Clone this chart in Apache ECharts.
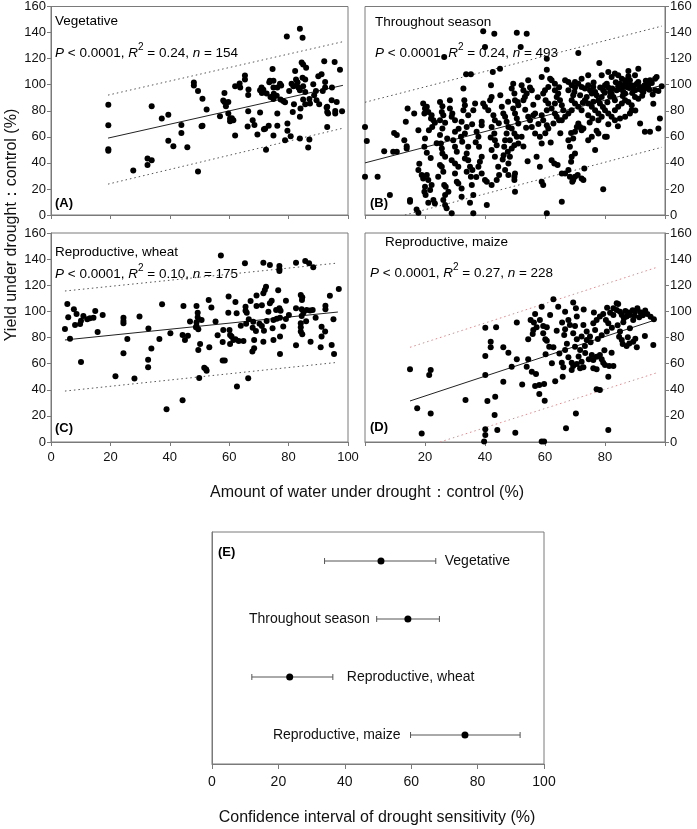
<!DOCTYPE html>
<html><head><meta charset="utf-8">
<script src="https://cdn.jsdelivr.net/npm/echarts@6/dist/echarts.min.js"></script>
<style>html,body{margin:0;padding:0;background:#fff}#c{width:697px;height:829px}</style>
</head><body><div id="c"></div>
<script>
// ---------- DATA ----------
const panelTitles = ['Vegetative','Throughout season','Reproductive, wheat','Reproductive, maize'];
const panelLetters = ['(A)','(B)','(C)','(D)','(E)'];
const pValues = ['0.0001','0.0001','0.0001','0.0001'];
const r2Values = ['0.24','0.24','0.10','0.27'];
const nValues = ['154','493','175','228'];
const xTicks = [0,20,40,60,80,100];
const yTicks = [0,20,40,60,80,100,120,140,160];

const vegetative = [[19.3,84.7],[19.3,68.9],[19.3,50.5],[19.3,49.3],[27.7,34.2],[32.5,43.4],[33.9,42.1],[32.5,38.3],[33.9,83.5],[37.3,74],[39.5,77],[39.5,57],[41.2,52.8],[43.9,69],[43.9,63],[45.9,52],[48.1,101.6],[48.1,99.3],[49.5,95.2],[49.5,33.4],[51,89.3],[51,68.4],[52.4,81],[56.9,75.8],[58.4,93.7],[58.4,86.8],[58.9,83.5],[59.7,86.8],[59.7,77.8],[60.3,74],[61.4,72.7],[60.3,72],[62,61],[62,98.8],[63.7,97.8],[63.5,101],[65.3,107],[65.3,104],[66.4,92],[66.4,79.6],[66.2,68],[67.9,72.7],[68.5,69],[69.5,61.8],[70.4,95.7],[71,93.7],[72.6,93.2],[70.4,78.6],[72.4,50],[71.7,65.8],[73.3,68.4],[74.6,112],[73.7,103],[74.9,103],[73.5,101.8],[74.9,97.8],[75,93],[73.9,90.6],[74.9,89],[76,91.6],[76.2,77.8],[74.9,61],[76.2,68.4],[77.1,100.8],[77.5,99.3],[76.2,97.8],[77.3,88.6],[78.2,87.5],[78.8,86.5],[78.8,57.4],[79.6,70.2],[79.6,64.6],[79.4,137],[80.2,95.2],[81,100.8],[81.6,98.8],[80.7,60.5],[81.4,79],[81.8,85],[82.2,110.5],[82.5,103.9],[83,101.8],[82.7,99.3],[83.3,97.8],[83.8,95.7],[83.8,143],[84.7,136],[83.8,75.3],[84,81.7],[83.8,58.7],[84.4,117],[84.9,115.4],[85.9,113],[84.7,105.4],[85.6,103.9],[84.9,98.8],[85.6,94.4],[84.9,88.6],[85.6,85],[87.2,85.5],[87,89],[87,58],[86.6,51.8],[88.3,100.3],[89.2,95.2],[88.6,91.9],[89.4,88],[90.3,85],[90,106.4],[91.1,108],[92,118],[92.3,102],[92.3,97.8],[91.5,95.2],[93,83],[93,79],[93.3,77.8],[93,67.6],[94.6,97.8],[94.5,88],[96.2,86.8],[95.5,117.4],[95.7,79.9],[95.7,77.8],[97.3,111.5],[98,79.6],[72.1,66.2],[60.9,74.2],[58,87.8],[70.9,97.8],[71.5,96.1],[66.5,96.4],[50.7,68.2],[92.8,82.4]];

const throughoutSeason = [[39.4,141.1],[43.1,139.1],[50.6,139.9],[53.9,139.1],[40,128.9],[51.9,128.9],[26.4,121.2],[71.1,124.3],[78.1,116.6],[60.6,120],[45,112.3],[42.6,109.7],[33.7,108],[35.3,108],
[0,67.6],[0.6,56.7],[0,29.4],[4.2,29.4],[8.3,15.3],[6.4,49],[9.4,48.5],[10.6,48.5],[9.7,63],[10.6,61.3],[13.1,57.4],[13.9,52.8],[13.9,51],[14.2,81.7],[16.4,77.8],[13.6,71.5],[15,11.5],[17.2,4.3],[17.8,1.8],
[19.4,85.5],[20,81.7],[20.6,83],[19.8,77.8],[21.1,79.1],[22.2,76.6],[22,74],[22.8,72.7],[23.3,70.7],[22.4,67.6],[21.3,65.1],[17.8,65.1],[20,58.7],[19.8,52.3],[20.6,47.7],[17.8,34.5],[18.9,30.6],[19.4,28.1],[20.6,30.6],[21.1,26.8],[20,21.7],[19.8,17.9],[20.2,15.3],[21.7,19.1],[22.2,23],[22.8,11.5],[23.3,8.9],[21.1,9.4],[15,10.2],
[25,86.8],[25.8,83.5],[25.6,79.1],[26.1,76.6],[25,72.7],[26.7,70.7],[25.8,66.4],[25,61.3],[25.3,54.9],[25.6,51],[25.8,47.2],[26.7,44.7],[25,38.3],[25.6,37],[26.1,33.2],[24.4,29.4],[26.4,23],[26.9,21.7],[27.8,17.9],[26.7,15.3],[26.1,11.5],[26.7,7.7],[27.2,5.1],[28.3,88.1],[28.3,81.7],[29.1,77.8],[28.9,75.3],[30,72.7],[30,63.8],[29.4,57.4],[30,52.3],[30.6,48.5],[28.9,42.1],[30,39.6],[31.1,37],[30,31.9],[30.6,25.5],[31.1,24.2],[32.2,20.4],[32.2,14],[28.9,1.3],
[32.8,97],[33.1,88.1],[33.3,84.2],[32.8,80.4],[34.4,76.6],[32.2,71.5],[33.9,67.6],[33.3,62.5],[32,60],[32.4,56.2],[34.4,52.3],[33.9,47.2],[33.3,43.4],[34.4,42.1],[35,37],[35.8,34.5],[33.9,33.2],[35.3,29.4],[35.6,23],[35,9.4],[36.1,1.3],[36.1,15.3],[36.1,80.4],[36.7,85.5],[37.2,63.8],[37.8,60],[38,52.3],[38.9,44.7],[38.3,40.8],[37.8,37],[38.9,31.9],[40,26.8],[40.6,25.5],[38.9,71.5],[38.9,68.9],[39.4,85.5],[40,83],[41.1,80.4],[41.7,88.1],[42.2,90.6],[42,99.5],[42.8,76.6],[43.3,72.7],[42.2,67.6],[43.1,62.5],[43.3,57.4],[43.9,53.6],[42.2,49.8],[43.3,44.7],[44.4,37],[44.7,30.6],[43.9,26.8],[42.2,23],[40.6,7.7],
[45.6,83],[46.1,77.8],[46.7,75.3],[47.2,71.5],[47.8,67.6],[47.2,62.5],[46.7,57.4],[46.4,52.3],[47.6,48.5],[48.3,44.7],[47.8,39.6],[46.7,34.5],[47.8,30.6],[49.4,100.8],[48.9,97],[49.8,93.2],[50,88.1],[50.9,86.8],[51.1,84.2],[49.4,81.7],[50,77.8],[50.6,74],[51.1,70.2],[48.9,66.4],[49.8,62.5],[50.6,60],[51.1,54.9],[49.8,53.6],[48.9,51],[48.3,57.4],[50,31.9],[49.8,29.4],[49.8,26.8],[50,17.9],[52.2,60],[52.8,88.1],[53.3,90.6],[53.9,93.2],[52.2,99.5],[52.8,95.7],[54.4,103.4],[55,97.8],[55.6,95.7],[54.4,75.3],[55,72.7],[56.1,76.6],[56.7,77.8],[55.6,67.6],[56.7,62.5],[57.2,44.7],[58.3,37],[58.9,25.5],[59.4,23],[60.6,1.3],[58.3,60],[58.9,54.9],[59.4,93.2],[60,95.7],[61.1,98.3],[60.2,88.1],[61.1,85.5],[62.2,81.7],[60.6,80.4],[58.9,76.6],[59.4,72.7],[60.6,68.9],[61.1,66.4],[58.9,105.9],[60.6,111.5],[61.7,104.6],[62.2,103.4],[63.3,100.8],[63.3,95.7],[64.4,93.2],[63.9,90.6],[65,88.1],[65.6,84.2],[66.1,80.4],[63.3,77.8],[63.9,75.3],[64.7,72.7],[62.8,70.2],
[62.2,42.1],[63.1,39.6],[64.2,38.3],[65.6,31.9],[66.7,31.9],[67.8,34.5],[68.3,29.4],[69.1,25.5],[69.4,26.8],[70,29.4],[70.9,30.6],[72.2,28.1],[72.8,26.8],[73.1,35.7],[70,47.2],[68.9,44.7],[68.7,40.8],[68.3,52.3],[67.8,57.4],[69.4,58.7],[68.7,63],[70,63.8],[70.6,67.6],[71.1,70.2],[71.7,67.6],[72.2,65.1],[72.8,66.4],[65.6,10.2],[74.4,57.4],[75.6,60],[77.2,64.6],[77.8,62.5],[79.4,19.7],[80.6,60],[76.7,49.8],
[66.7,103.4],[67.8,102.1],[68.9,99.5],[70,97.8],[71.1,100.8],[72.2,98.3],[73.3,97],[74.4,99.5],[75,95.7],[75.6,93.2],[76.1,98.3],[76.7,94.4],[77.2,91.9],[77.8,88.1],[78.3,85.5],[78.9,90.6],[79.4,95.7],[80,99.5],[80.6,100.8],[81.1,97.8],[81.7,94.4],[82.2,93.2],[82.8,90.6],[83.3,88.1],[83.9,95.7],[84.4,98.8],[85,100.8],[85.6,97],[86.1,94.4],[86.7,93.2],[87.2,98.3],[87.8,100.8],[88.3,103.4],[88.9,99.5],[89.4,97],[90,95.7],[90.6,100.8],[91.1,102.1],[91.7,98.3],[92.2,95.7],[92.8,94.4],[93.3,97],[93.9,100.8],[94.4,99.5],[95,103.4],[95.6,101.3],[96.7,104.6],[97.2,105.9],[68.9,88.1],[70,85.5],[71.1,83],[72.2,80.4],[73.3,88.1],[74.4,85.5],[75.6,83],[76.7,80.4],[77.8,77.8],[78.9,75.3],[80,80.4],[81.1,77.8],[82.2,75.3],[83.3,80.4],[84.4,83],[85.6,85.5],[86.7,88.1],[87.8,86.8],[88.9,84.2],[90,90.6],[91.1,89.3],[88.9,80.4],[82.2,105.9],[83.3,108.5],[84.4,107.2],[85.6,104.6],[86.7,103.4],[87.8,106.4],[90,107.2],[91.1,112.3],[87.8,110.5],[81.1,109.7],[78.9,107.2],[74.4,107.2],[72.2,104.6],[70,102.1],[67.8,95.7],[69.4,91.9],[71.7,91.9],[73.9,90.6],[65.6,72.7],[66.7,75.3],[67.8,77.8],[68.9,80.4],[63.3,85.5],[74.4,76.6],[75.8,74],[77.8,72.7],[80,60],[81.1,69.7],[83.3,72.7],[85,74],[86.7,75.3],[88.3,77.8],[91.7,70.2],[93.3,63.8],[95,63.8],[97.8,66.4],[98.3,74],[98.9,98.8],[96.7,95.7],[97.8,95.2],
[84.9,96.6],[86.2,99.6],[88.1,97.4],[89.7,99.1],[91.4,96.9],[93.1,99.3],[94.8,96.2],[83.6,101.9],[82.4,97.1],[79.9,93.8],[78.4,97.8],[76.2,101.6],[81.7,90.9],[85.9,91.3],[89.1,93.6],[92.4,91.6],[95.9,92.4],[93.6,103.1],[86.9,102.4],[80.8,86.6],[72.6,86.1],[69.8,94.4],[64.7,98.1],[57.6,90.4],[56.1,84.7],[53.4,80.8],[47.7,86.9],[45.1,91.8],[44.6,70.5],[41.9,59.4],[36.9,55.8],[35.7,69.6],[31.2,66.1],[27.4,58.8],[23.9,55.1],[21.9,43.8],[18.1,39.3],[37.1,29.2],[45.9,42.6],[52.8,52.6],[54.2,41.2],[61.9,55.7],[65.1,62.8],[74.9,70.9],[84.3,68.1],[90.1,80.1],[96.1,85.4],[79.3,82.9],[76.1,86.9],[60.1,62.8],[57.8,69.9],[53.7,66.9],[46.2,45.9]];

const reproWheat = [[57.2,142.7],[65.3,136.8],[71.5,137.3],[73.7,135.5],[76.9,134.8],[76.9,132.2],[76.9,131],[82.5,137.3],[85.6,138.6],[86.9,136.8],[88.3,133.7],[5.5,105.7],[5.8,95.5],[4.7,86.5],[6.4,79.1],[7.7,101.6],[8.6,98],[8.1,89.6],[10.1,92.9],[9.8,90.4],[10.9,96.5],[12.2,93.9],[13.1,94.7],[14.3,95.2],[14.9,100.3],[15.7,84.2],[10.1,61.3],[21.7,50.3],[24.4,95.2],[24.4,92.6],[24.4,90.9],[25.7,78.9],[24.4,67.9],[28.1,48.7],[32.8,86.8],[33.8,71.5],[32.7,63],[32.7,57.2],[36.5,78.9],[37.4,105.4],[38.9,25],[44.3,31.9],[44.6,104.1],[44.3,81.9],[46.1,81.4],[45.1,78.1],[49,104.1],[49.4,99],[49.4,95.5],[49,88.8],[48.8,87.8],[49.6,86.3],[49,91.7],[50.2,75],[49.6,70.4],[49.9,49],[53.1,108.7],[54,102.9],[53.3,72.5],[51.6,56.9],[52.4,54.6],[52.2,55.6],[56.1,81.7],[58,85.8],[57.8,76.6],[59.7,99],[59.8,111.3],[57.8,62.3],[58.5,62.3],[60.1,85.8],[60.3,81.9],[60.8,80.7],[61.4,78.1],[62.1,78.6],[60.3,75],[63.2,77.3],[64.8,77.3],[62.1,107.2],[62.5,98.5],[65.5,103.6],[65.5,100.5],[65.9,99],[66.6,93.9],[68.1,92.1],[65.7,90.6],[67.9,87.5],[69,85],[67.2,108],[69.2,112.1],[71.5,113.9],[72.4,118.9],[72,116.4],[68.4,78.1],[68.4,71.7],[67.8,69.2],[62.6,42.4],[66.4,48.8],[69.2,104.1],[71,104.6],[73.2,99.8],[73.7,106.2],[74.3,108.2],[76.5,116.2],[70.2,90.6],[71,88.8],[71.7,85.2],[72.6,92.6],[74.6,87],[74.9,93.4],[75.8,101],[76.9,102.3],[77.3,100.5],[76,94.4],[77.1,95.2],[71.5,76.8],[74.9,78.1],[77.1,80.7],[77.1,67.4],[79.1,108.2],[79.1,94.2],[82.5,102.3],[82.5,74],[84.1,112.6],[84.6,110.8],[84.5,108.7],[84.4,101.6],[85,99],[84.4,96.5],[85.9,92.4],[86.1,101.1],[87.2,100.6],[88.1,101.1],[84.1,90.9],[84.1,87.8],[84.1,84.5],[84.6,82.4],[87.4,76.8],[89.1,95.2],[90.8,72.5],[91.1,80.7],[92.3,84.5],[92.4,101.6],[92.4,104.4],[93.9,112],[96.9,117.2],[95.1,93.9],[95.3,67.4],[94.5,74.3],[91.1,88.3],[80.1,97.3],[78.2,88.4],[63.9,88.9],[55.4,92.3],[50.7,93.4],[46.8,92.2],[40.2,83.2],[29.8,96.1],[17.4,97.2]];

const reproMaize = [[15,55.6],[21.9,55.1],[21.4,51.3],[17.4,25.8],[21.9,21.9],[18.9,6.6],[33.5,32.2],[40.1,87.5],[43.7,87.8],[41.9,76.8],[41.9,72.5],[46.1,72.5],[47.8,68.4],[40.1,65.8],[40.1,51.3],[40.8,31.4],[43.4,34.7],[43.2,20.7],[40.1,9.7],[40.1,5.4],[39.7,0.3],[44.1,9.2],[50.1,7.1],[46.1,46.2],[50.6,91.4],[50.6,63.3],[48.9,57.7],[53.9,57.7],
[54.4,63.3],[56.7,98],[55.2,93.4],[56.3,91.4],[57.2,87.8],[56.1,85.8],[55.9,82.7],[54.4,78.6],[58.3,93.4],[59.4,88.8],[60.6,87.8],[59.4,83.2],[60.1,78.6],[60.6,77.6],[61.4,73],[62.8,72.5],[58.9,103.6],[57,52.1],[56.7,42.9],[58.1,43.7],[59.7,44.4],[58.1,36.8],[59.9,31.6],
[63.4,46.5],[65.9,50],[65.6,60.7],[66.1,57.2],[66.7,70.4],[66.4,81.9],[65.7,91.4],[66.7,86.3],[62.8,109.2],[64.4,103.6],[66.7,99.8],[67.8,93.4],[68.3,89.6],[69.4,106.7],[70.3,102.3],[70.6,96],[70,88.8],[69.4,83.2],[70.6,78.6],[70,73],[71.7,70.4],[73.3,73.5],[73.9,78.1],[75,80.7],[76.7,85.8],[76.1,90.9],[77.2,93.4],[78.3,96],[79.4,98],[80.3,93.4],[81.1,90.9],
[67.8,64.8],[68.9,60.7],[69.4,58.2],[70.6,59.7],[72.2,61.5],[72.8,57.2],[68.9,55.1],[71.7,56.4],[75.6,66.6],[76.1,62.8],[77.2,65.3],[78.3,66.6],[78.9,63.3],[79.4,60.7],[80,59],[77.2,55.6],[81.4,58.2],[82.8,58.2],[76.1,56.4],[77.2,40.3],[78.3,39.8],[81.1,50],[70.3,21.9],[67,10.5],[81.1,9.2],[58.9,0.3],[59.7,0.3],
[82.8,97.2],[83.9,101.1],[85,99.8],[85.6,97.2],[86.3,94.7],[87.2,96],[88.3,97.2],[89.4,93.4],[90,99.8],[90.8,102.3],[91.4,95.5],[94.1,98],[96.3,93.9],[88.3,87],[85,84.5],[85.6,78.1],[85.9,75],[87.2,73.5],[88.1,75.5],[89.4,76.8],[90.6,72.5],[93.3,81.2],[96.1,74.3],[83.9,106.2],[84.4,105.7],[82.8,102.3],[81.7,99],[72.8,89.6],[73.9,84.5],[72.2,80.7],
[86.8,100.2],[87.9,99.1],[89.2,100.9],[91.8,99.4],[92.6,97.1],[93.4,100.6],[86.1,91.7],[84.2,89.3],[82.3,87.4],[80.6,84.6],[78.9,81.8],[77.6,78.9],[75.2,76.4],[73.4,68.2],[71.2,65.4],[74.6,63.4],[79.8,70.3],[82.2,68.4],[84.7,80.6],[87.6,80.2],[90.1,79.1],[89.8,96.4],[95.2,95.8],[62.3,60.2],[60.2,67.1],[55.6,53.8],[52.4,44.1],[63.9,85.1],[61.7,97.3],[72.9,101.4],[76.3,99.2],[80.7,102.8],[67.3,75.2],[64.8,67.7]];

// fitted regression line and 95% prediction bands (end points)
const fitLines = [[[19.2,59],[98.3,99.5]],[[0,40],[99,99.5]],[[4.7,78.1],[96.6,99.5]],[[15,31.4],[96.7,93.4]]];
const upperBands = [[[19.2,92],[98.3,133]],[[0,86.5],[99,145]],[[4.7,115.6],[96.6,137]],[[15,72.5],[97,133.5]]];
const lowerBands = [[[19.2,23.7],[98.3,66.6]],[[13.3,0],[99,52]],[[4.7,39],[96.6,61]],[[25,0],[97,52.8]]];

// panel E
const sensCategories = ['Vegetative','Throughout season','Reproductive, wheat','Reproductive, maize'];
const sensMean = [50.9, 59.0, 23.4, 76.2];
const sensLow = [33.9, 49.6, 12.0, 59.8];
const sensHigh = [67.4, 68.5, 36.4, 92.8];

// ---------- CHART ----------
const FONT = '"Liberation Sans", Arial, Helvetica, sans-serif';
const AX = '#7a7a7a';
const scatterSets = [vegetative, throughoutSeason, reproWheat, reproMaize];
const bandColors = ['#555','#555','#555','#d98c90'];
const grids = [
  {left:51, top:6, width:297, height:209},
  {left:365, top:6, width:300, height:209},
  {left:51, top:233, width:297, height:209},
  {left:365, top:233, width:300, height:209},
  {left:212, top:532, width:332, height:232}
].map(g => Object.assign(g, {show:true, borderColor:AX, borderWidth:1, backgroundColor:'transparent'}));

const xAxes = [], yAxes = [], series = [];
for (let i = 0; i < 4; i++) {
  xAxes.push({gridIndex:i, type:'value', min:xTicks[0], max:xTicks[xTicks.length-1], interval:20,
    axisLine:{show:true, onZero:false, lineStyle:{color:AX}},
    axisTick:{show:true, length:4, lineStyle:{color:AX}},
    axisLabel:{show:i>=2, fontFamily:FONT, fontSize:13, color:'#111', margin:9,
      formatter: v => (i===3 && (v===0 || v===100)) ? '' : String(v)},
    splitLine:{show:false}});
  yAxes.push({gridIndex:i, type:'value', min:yTicks[0], max:yTicks[yTicks.length-1], interval:20,
    position: (i%2===0) ? 'left' : 'right',
    axisLine:{show:true, onZero:false, lineStyle:{color:AX}},
    axisTick:{show:true, length:4, lineStyle:{color:AX}},
    axisLabel:{fontFamily:FONT, fontSize:13, color:'#111', margin:5},
    splitLine:{show:false}});
  series.push({type:'line', xAxisIndex:i, yAxisIndex:i, data:upperBands[i], symbol:'none', silent:true,
    lineStyle:{color:bandColors[i], width:1, type:[1.5,3]}, z:2});
  series.push({type:'line', xAxisIndex:i, yAxisIndex:i, data:lowerBands[i], symbol:'none', silent:true,
    lineStyle:{color:bandColors[i], width:1, type:[1.5,3]}, z:2});
  series.push({type:'line', xAxisIndex:i, yAxisIndex:i, data:fitLines[i], symbol:'none', silent:true,
    lineStyle:{color:'#222', width:1}, z:3});
  series.push({type:'scatter', xAxisIndex:i, yAxisIndex:i, data:scatterSets[i], symbol:'circle', symbolSize:6,
    itemStyle:{color:'#000', opacity:1}, z:4, clip:false});
}
// panel E axes
xAxes.push({gridIndex:4, type:'value', min:0, max:100, interval:20,
  axisLine:{show:true, lineStyle:{color:AX}}, axisTick:{show:true, length:5, lineStyle:{color:AX}},
  axisLabel:{fontFamily:FONT, fontSize:14, color:'#111', margin:11}, splitLine:{show:false}});
yAxes.push({gridIndex:4, type:'category', data:sensCategories, inverse:true,
  axisLine:{show:true, lineStyle:{color:AX}}, axisTick:{show:false}, axisLabel:{show:false}, splitLine:{show:false}});

const labelSide = ['right','left','right','left'];
const labelGap = [9,7,14,10];
series.push({type:'custom', xAxisIndex:4, yAxisIndex:4,
  data: sensCategories.map((c,i) => [sensLow[i], sensHigh[i], i]),
  encode:{x:[0,1], y:2},
  renderItem: (params, api) => {
    const i = params.dataIndex;
    const lo = api.coord([api.value(0), i]);
    const hi = api.coord([api.value(1), i]);
    const st = {stroke:'#555', lineWidth:1};
    const side = labelSide[i];
    return {type:'group', children:[
      {type:'line', shape:{x1:lo[0], y1:lo[1], x2:hi[0], y2:hi[1]}, style:st},
      {type:'line', shape:{x1:lo[0], y1:lo[1]-3, x2:lo[0], y2:lo[1]+3}, style:st},
      {type:'line', shape:{x1:hi[0], y1:hi[1]-3, x2:hi[0], y2:hi[1]+3}, style:st},
      {type:'text', style:{text:sensCategories[i], x: side==='right' ? hi[0]+labelGap[i] : lo[0]-labelGap[i], y:lo[1],
        align: side==='right' ? 'left' : 'right', verticalAlign:'middle', fontFamily:FONT, fontSize:14, fill:'#111'}}
    ]};
  }, z:3});
series.push({type:'scatter', xAxisIndex:4, yAxisIndex:4, data: sensMean.map((m,i) => [m, sensCategories[i]]),
  symbolSize:7, itemStyle:{color:'#000', opacity:1}, z:5});

// annotation text
const txtPos = [
  {title:[55,21], stat:[55,53], letter:[55,203]},
  {title:[375,22], stat:[375,53], letter:[370,203]},
  {title:[55,252], stat:[55,274], letter:[55,428]},
  {title:[385,242], stat:[370,273], letter:[370,427]}
];
const graphics = [];
const rich = {
  i:{fontFamily:FONT, fontSize:13.5, fontStyle:'italic', fill:'#000'},
  t:{fontFamily:FONT, fontSize:13.5, fill:'#000'},
  s:{fontFamily:FONT, fontSize:10, fill:'#000', padding:[0,0,12,0]}
};
for (let i = 0; i < 4; i++) {
  const p = txtPos[i];
  graphics.push({type:'text', x:p.title[0], y:p.title[1], silent:true,
    style:{text:panelTitles[i], fontFamily:FONT, fontSize:13.5, fill:'#000', verticalAlign:'middle'}});
  graphics.push({type:'text', x:p.stat[0], y:p.stat[1], silent:true,
    style:{text:'{i|P}{t| < ' + pValues[i] + ', }{i|R}{s|2}{t| = ' + r2Values[i] + ', }{i|n}{t| = ' + nValues[i] + '}',
      rich:rich, verticalAlign:'middle', fontFamily:FONT, fontSize:13.5}});
  graphics.push({type:'text', x:p.letter[0], y:p.letter[1], silent:true,
    style:{text:panelLetters[i], fontFamily:FONT, fontSize:13, fontWeight:'bold', fill:'#000', verticalAlign:'middle'}});
}
graphics.push({type:'text', x:218, y:552, silent:true,
  style:{text:panelLetters[4], fontFamily:FONT, fontSize:13, fontWeight:'bold', fill:'#000', verticalAlign:'middle'}});
graphics.push({type:'text', x:12, y:225, rotation:Math.PI/2, silent:true,
  style:{text:'Yield under drought：control (%)', fontFamily:FONT, fontSize:16, fill:'#111', align:'center', verticalAlign:'middle'}});
graphics.push({type:'text', x:367, y:493, silent:true,
  style:{text:'Amount of water under drought：control (%)', fontFamily:FONT, fontSize:16, fill:'#111', align:'center', verticalAlign:'middle'}});
graphics.push({type:'text', x:377, y:818, silent:true,
  style:{text:'Confidence interval of drought sensitivity (%)', fontFamily:FONT, fontSize:16, fill:'#111', align:'center', verticalAlign:'middle'}});

const chart = echarts.init(document.getElementById('c'), null, {renderer:'canvas'});
chart.setOption({
  animation:false, backgroundColor:'#fff',
  grid:grids, xAxis:xAxes, yAxis:yAxes, series:series, graphic:graphics
});
</script></body></html>
